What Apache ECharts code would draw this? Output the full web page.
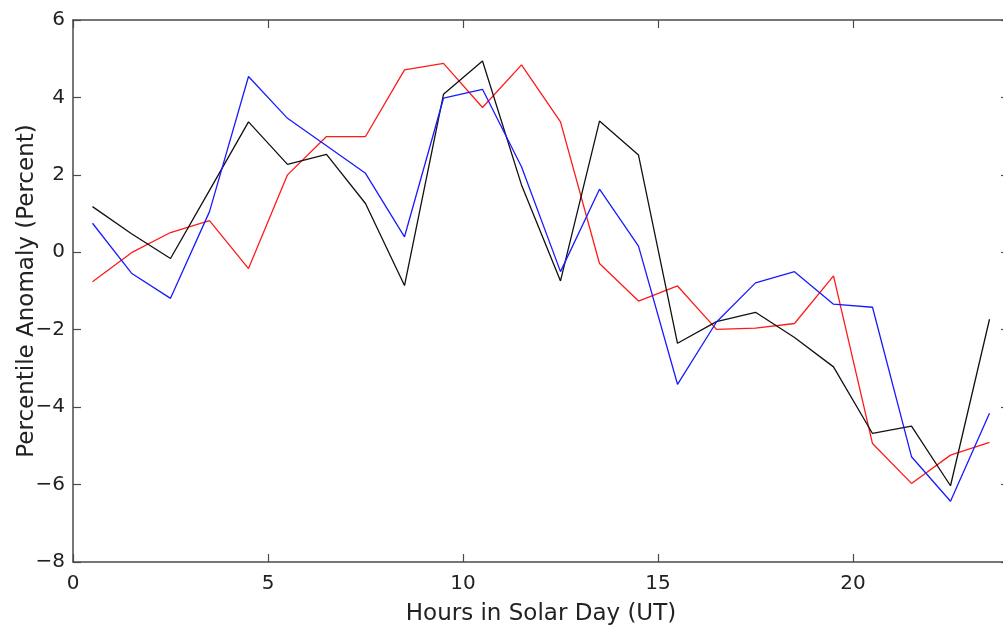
<!DOCTYPE html>
<html>
<head>
<meta charset="utf-8">
<script src="https://cdn.jsdelivr.net/npm/echarts@6/dist/echarts.min.js"></script>
<style>
  html, body { margin: 0; padding: 0; background: #fff; overflow: hidden; }
  /* the frame's right edge runs just past the window edge */
  #chart { width: 1012px; height: 630px; }
</style>
</head>
<body>
<div id="chart"></div>
<script>
// Hourly bins (centre of each solar-day hour, UT)
const hours = [0.5, 1.5, 2.5, 3.5, 4.5, 5.5, 6.5, 7.5, 8.5, 9.5, 10.5, 11.5,
               12.5, 13.5, 14.5, 15.5, 16.5, 17.5, 18.5, 19.5, 20.5, 21.5, 22.5, 23.5];

// Percentile anomaly per hour for the three curves
const blackSeries = [1.18, 0.48, -0.16, 1.6, 3.37, 2.27, 2.53, 1.26, -0.86, 4.08, 4.94, 1.74,
                     -0.74, 3.39, 2.51, -2.35, -1.79, -1.55, -2.2, -2.96, -4.68, -4.49, -6.03, -1.73];
const blueSeries  = [0.75, -0.54, -1.19, 1.05, 4.54, 3.46, 2.75, 2.04, 0.4, 3.98, 4.21, 2.21,
                     -0.5, 1.63, 0.16, -3.41, -1.8, -0.79, -0.5, -1.34, -1.42, -5.28, -6.43, -4.16];
const redSeries   = [-0.76, -0.01, 0.51, 0.82, -0.42, 2.0, 2.99, 2.99, 4.71, 4.88, 3.74, 4.84,
                     3.37, -0.29, -1.26, -0.87, -1.99, -1.96, -1.84, -0.61, -4.94, -5.97, -5.24, -4.91];

// Axis ranges and tick steps
const xRange = [0, 24];
const xStep = 5;
const yRange = [-8, 6];
const yStep = 2;

const pairs = (ys) => hours.map((h, i) => [h, ys[i]]);
const minusSign = (v) => String(v).replace('-', '\u2212');

const axisColor = '#4a4a4a';
const textColor = '#222';
const fontFamily = '"DejaVu Sans", "Liberation Sans", sans-serif';

const frameAxis = {
  axisLine: { show: true, onZero: false, lineStyle: { color: axisColor, width: 1.5 } },
  axisTick: { show: true, inside: true, length: 8, lineStyle: { color: axisColor, width: 1.2 } },
  splitLine: { show: false }
};

const chart = echarts.init(document.getElementById('chart'), null, { renderer: 'canvas' });
chart.setOption({
  backgroundColor: '#fff',
  animation: false,
  grid: { left: 73, top: 20, width: 936, height: 542, containLabel: false, outerBoundsMode: 'none' },
  xAxis: [
    Object.assign({
      type: 'value', position: 'bottom', min: xRange[0], max: xRange[1], interval: xStep,
      name: 'Hours in Solar Day (UT)', nameLocation: 'middle', nameGap: 41,
      nameMoveOverlap: false,
      nameTextStyle: { color: textColor, fontSize: 23, fontFamily: fontFamily },
      axisLabel: { color: textColor, fontSize: 20, fontFamily: fontFamily, margin: 12,
                   showMaxLabel: false, formatter: minusSign }
    }, frameAxis),
    Object.assign({
      type: 'value', position: 'top', min: xRange[0], max: xRange[1], interval: xStep,
      axisLabel: { show: false }
    }, frameAxis)
  ],
  yAxis: [
    Object.assign({
      type: 'value', position: 'left', min: yRange[0], max: yRange[1], interval: yStep,
      name: 'Percentile Anomaly (Percent)', nameLocation: 'middle', nameGap: 34,
      nameRotate: 90, nameMoveOverlap: false,
      nameTextStyle: { color: textColor, fontSize: 23, fontFamily: fontFamily },
      axisLabel: { color: textColor, fontSize: 20, fontFamily: fontFamily, margin: 8,
                   formatter: minusSign }
    }, frameAxis),
    Object.assign({
      type: 'value', position: 'right', min: yRange[0], max: yRange[1], interval: yStep,
      axisLabel: { show: false }
    }, frameAxis)
  ],
  series: [
    { name: 'black', type: 'line', data: pairs(blackSeries), showSymbol: false, symbol: 'none',
      lineStyle: { color: '#111', width: 1.3 }, z: 3 },
    { name: 'blue', type: 'line', data: pairs(blueSeries), showSymbol: false, symbol: 'none',
      lineStyle: { color: '#1a1aff', width: 1.3 }, z: 4 },
    { name: 'red', type: 'line', data: pairs(redSeries), showSymbol: false, symbol: 'none',
      lineStyle: { color: '#ff1a1a', width: 1.3 }, z: 2 }
  ]
});
</script>
</body>
</html>
